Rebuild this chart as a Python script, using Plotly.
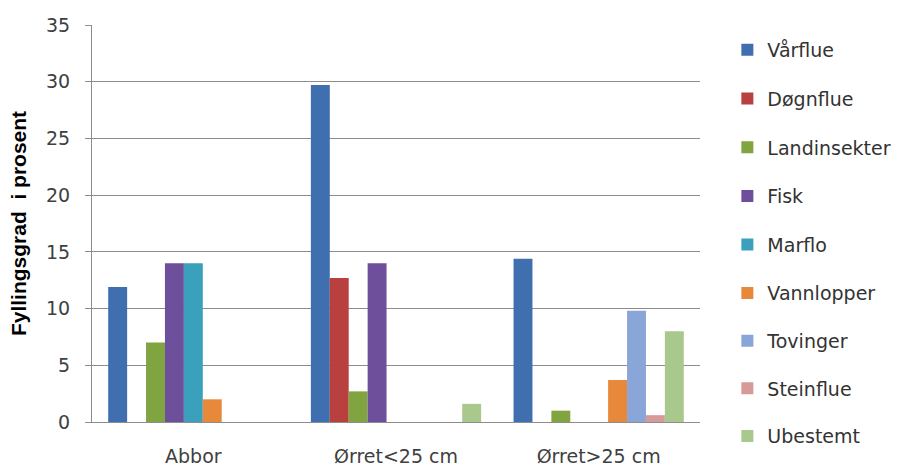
import plotly.graph_objects as go

categories = ["Abbor", "Ørret<25 cm", "Ørret>25 cm"]

series_names = ["Vårflue", "Døgnflue", "Landinsekter", "Fisk", "Marflo",
                "Vannlopper", "Tovinger", "Steinflue", "Ubestemt"]

vaarflue = [11.9, 29.7, 14.4]
doegnflue = [0, 12.7, 0]
landinsekter = [7.0, 2.7, 1.0]
fisk = [14.0, 14.0, 0]
marflo = [14.0, 0, 0]
vannlopper = [2.0, 0, 3.7]
tovinger = [0, 0, 9.8]
steinflue = [0, 0, 0.6]
ubestemt = [0, 1.6, 8.0]

series_values = [vaarflue, doegnflue, landinsekter, fisk, marflo,
                 vannlopper, tovinger, steinflue, ubestemt]

colors = ["#3F6FAF", "#B8403E", "#80A440", "#6E4F9B", "#3AA0BC",
          "#E8883A", "#8AA5D8", "#D69A98", "#A9C88B"]

y_ticks = [0, 5, 10, 15, 20, 25, 30, 35]

FONT = "DejaVu Sans"
GRID = "#8C8C8C"

fig = go.Figure()
for i, (name, vals, col) in enumerate(zip(series_names, series_values, colors)):
    # the key is split over two stacked legend boxes so it never scrolls
    fig.add_trace(go.Bar(
        x=categories, y=vals, name=name, legendgroup=name,
        legend="legend" if i < 5 else "legend2",
        marker=dict(color=col, line=dict(width=0)),
    ))

legend_style = dict(
    x=1.045, xanchor="left", yanchor="top",
    font=dict(family=FONT, size=19, color="#333333"),
    itemwidth=30, bgcolor="rgba(0,0,0,0)",
)

fig.update_layout(
    width=907, height=467,
    margin=dict(l=92, r=207, t=25, b=45, autoexpand=False),
    paper_bgcolor="white", plot_bgcolor="white",
    barmode="group", bargap=0.16, bargroupgap=0,
    font=dict(family=FONT, size=19, color="#404040"),
    legend=dict(y=0.985, tracegroupgap=21, **legend_style),
    legend2=dict(y=0.3725, tracegroupgap=20, **legend_style),
    showlegend=True,
)

fig.update_xaxes(
    showline=True, linecolor=GRID, linewidth=1,
    showgrid=False, ticks="", ticklabelstandoff=17,
    tickfont=dict(family=FONT, size=19, color="#404040"),
)

fig.update_yaxes(
    range=[0, 35], tickvals=y_ticks,
    showline=True, linecolor=GRID, linewidth=1,
    showgrid=True, gridcolor=GRID, gridwidth=1,
    ticks="outside", ticklen=6, tickcolor=GRID,
    ticklabelstandoff=11,
    tickfont=dict(family=FONT, size=19, color="#404040"),
    zeroline=False,
    title=dict(text="<b>Fyllingsgrad  i prosent</b>",
               font=dict(family="Liberation Sans", size=21, color="#000000"),
               standoff=13),
)

fig.write_html("out.html")
